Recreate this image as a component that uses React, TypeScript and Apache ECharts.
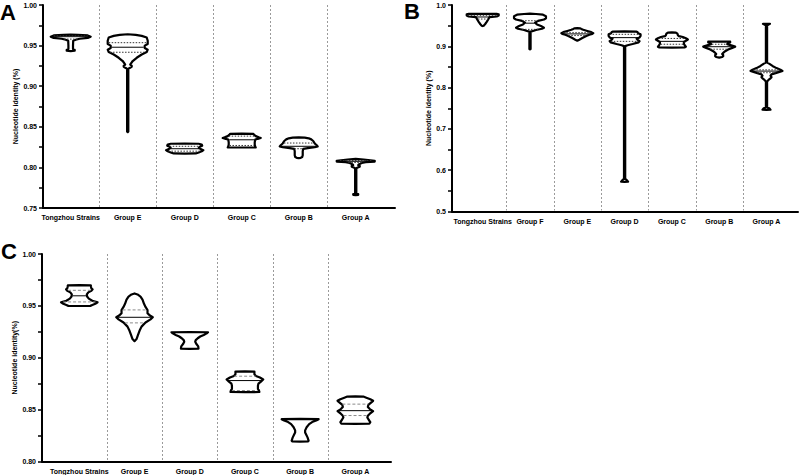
import React, { useEffect, useRef } from 'react';
import * as echarts from 'echarts';

// ---------- Panel A ----------
const catsA = ['Tongzhou Strains', 'Group E', 'Group D', 'Group C', 'Group B', 'Group A'];
// violin profiles: [value, relative density]
const A_tongzhou = [[0.9634, 0], [0.9632, 7], [0.9625, 17], [0.961, 20], [0.9595, 17], [0.9584, 9], [0.9572, 5], [0.956, 2.5], [0.95, 2.3], [0.9458, 2.3], [0.945, 4], [0.9438, 4], [0.9432, 0]];
const A_groupE = [[0.964, 0], [0.9633, 8], [0.962, 14], [0.96, 19], [0.956, 20], [0.952, 20], [0.95, 17], [0.947, 17], [0.945, 20], [0.942, 19], [0.939, 14], [0.935, 9], [0.931, 5], [0.9285, 3.5], [0.9265, 2.5], [0.9252, 4], [0.9238, 4], [0.9225, 2], [0.9212, 0.6], [0.8442, 0.6], [0.8434, 0]];
const A_groupD = [[0.8292, 0], [0.8291, 14], [0.8282, 17], [0.8268, 17.5], [0.8255, 15], [0.824, 14], [0.8225, 16], [0.8212, 18.7], [0.8198, 17], [0.8184, 14], [0.8172, 11], [0.817, 0]];
const A_groupC = [[0.8415, 0], [0.8414, 11.5], [0.84, 12.5], [0.8385, 14], [0.837, 17], [0.8362, 19], [0.8352, 16], [0.8342, 13.5], [0.831, 13], [0.828, 13], [0.8258, 13.5], [0.8246, 14], [0.8245, 0]];
const A_groupB = [[0.837, 0], [0.8366, 6], [0.8358, 10], [0.8345, 12.5], [0.8325, 14.5], [0.8295, 16], [0.8272, 18], [0.8258, 19], [0.8248, 16], [0.8238, 9], [0.8228, 4.5], [0.82, 4], [0.815, 4], [0.8128, 3.5], [0.8118, 2], [0.8115, 0]];
const A_groupA = [[0.8106, 0], [0.8097, 8], [0.8082, 19], [0.8072, 19], [0.8064, 10], [0.8054, 6], [0.804, 3.5], [0.8028, 2.5], [0.802, 4], [0.8008, 4], [0.7998, 2], [0.799, 0.6], [0.768, 0.6], [0.7672, 2.5], [0.7662, 2.5], [0.7658, 0]];
// [Q1, median, Q3]
const quartilesA = [[0.958, 0.961, 0.962], [0.9418, 0.948, 0.9536], [0.82, 0.823, 0.826], [0.827, 0.834, 0.8385], [0.823, 0.826, 0.83], [0.806, 0.8075, 0.8085]];
const ticksA = { min: 0.75, max: 1.0, interval: 0.05 };

// ---------- Panel B ----------
const catsB = ['Tongzhou Strains', 'Group F', 'Group E', 'Group D', 'Group C', 'Group B', 'Group A'];
const B_tongzhou = [[0.9786, 0], [0.9784, 14], [0.9776, 16], [0.9748, 16], [0.9722, 14], [0.9706, 7], [0.9695, 6.5], [0.965, 5.5], [0.959, 4], [0.954, 2.5], [0.95, 1], [0.949, 0]];
const B_groupF = [[0.979, 0], [0.9782, 6], [0.9765, 13], [0.973, 16], [0.968, 16], [0.965, 14], [0.9615, 8], [0.957, 5], [0.953, 7], [0.949, 11], [0.945, 14], [0.9425, 12], [0.9395, 6], [0.9372, 3], [0.9355, 0.6], [0.8935, 0.6], [0.8925, 0]];
const B_groupE = [[0.9442, 0], [0.9436, 3], [0.942, 4], [0.94, 6], [0.937, 10], [0.9342, 14], [0.9318, 16], [0.93, 15], [0.928, 12], [0.925, 9], [0.92, 5], [0.916, 2], [0.9135, 0]];
const B_groupD = [[0.936, 0], [0.9356, 12], [0.934, 13], [0.9318, 13.5], [0.929, 16], [0.925, 16], [0.9215, 15], [0.9185, 12], [0.9155, 13], [0.9125, 15], [0.9095, 14], [0.9055, 8], [0.9025, 3], [0.9005, 0.6], [0.579, 0.6], [0.5765, 2], [0.5722, 3.5], [0.5718, 0]];
const B_groupC = [[0.9335, 0], [0.9332, 4], [0.9305, 5.5], [0.927, 6], [0.9245, 7], [0.9225, 11], [0.9195, 14], [0.9165, 16], [0.9135, 14], [0.9105, 12], [0.906, 12], [0.902, 13], [0.899, 14], [0.8975, 13], [0.897, 0]];
const B_groupB = [[0.9115, 0], [0.9112, 11], [0.9092, 11], [0.9072, 9], [0.9052, 8], [0.9022, 12], [0.8992, 16], [0.8962, 13], [0.8922, 9], [0.8882, 6], [0.8842, 4], [0.8812, 3], [0.8792, 4], [0.8762, 4], [0.874, 3], [0.8725, 0]];
const B_groupA = [[0.9546, 0], [0.9545, 3.5], [0.9525, 2], [0.9505, 0.6], [0.8605, 0.6], [0.8575, 3], [0.8525, 6], [0.8472, 10], [0.8432, 14], [0.8405, 16], [0.838, 13], [0.835, 9], [0.832, 5], [0.829, 4], [0.8252, 5], [0.8222, 4], [0.8185, 2], [0.815, 0.6], [0.7522, 0.6], [0.7492, 3], [0.7466, 4], [0.746, 0]];
const quartilesB = [[0.966, 0.971, 0.975], [0.941, 0.956, 0.962], [0.926, 0.93, 0.933], [0.912, 0.921, 0.929], [0.905, 0.912, 0.919], [0.893, 0.899, 0.905], [0.836, 0.84, 0.843]];
const ticksB = { min: 0.5, max: 1.0, interval: 0.1 };

// ---------- Panel C ----------
const catsC = ['Tongzhou Strains', 'Group E', 'Group D', 'Group C', 'Group B', 'Group A'];
const C_tongzhou = [[0.97, 0], [0.9698, 11.5], [0.9685, 11.7], [0.967, 12], [0.966, 13.3], [0.9645, 12], [0.963, 9], [0.961, 7.5], [0.959, 7.8], [0.957, 9.5], [0.955, 13], [0.9535, 18.3], [0.952, 16], [0.9508, 13], [0.95, 11], [0.9499, 0]];
const C_groupE = [[0.962, 0], [0.961, 3], [0.959, 6], [0.956, 8], [0.952, 9.5], [0.949, 11], [0.946, 13], [0.943, 13], [0.941, 15], [0.939, 18.3], [0.937, 16], [0.934, 11], [0.93, 7], [0.926, 5], [0.922, 3.5], [0.918, 2], [0.916, 0]];
const C_groupD = [[0.9247, 0], [0.9246, 18.3], [0.9235, 17], [0.922, 14], [0.9205, 10.5], [0.9188, 8], [0.917, 6], [0.9155, 5.5], [0.9135, 6.5], [0.911, 8.5], [0.9087, 8.8], [0.9086, 0]];
const C_groupC = [[0.8868, 0], [0.8867, 9.5], [0.884, 9.5], [0.8825, 11], [0.881, 15], [0.879, 18.3], [0.877, 16], [0.875, 13.5], [0.873, 13], [0.87, 13], [0.8685, 14], [0.867, 14.5], [0.8668, 0]];
const C_groupB = [[0.841, 0], [0.8408, 18.5], [0.8395, 16], [0.838, 12], [0.836, 9], [0.833, 6.5], [0.83, 5], [0.828, 5], [0.826, 6], [0.823, 7.5], [0.82, 8.5], [0.8193, 8], [0.8192, 0]];
const C_groupA = [[0.8627, 0], [0.8626, 8], [0.8615, 11], [0.86, 15], [0.8585, 17.8], [0.857, 16], [0.8545, 13], [0.8525, 12.5], [0.8505, 14.5], [0.8485, 17.8], [0.8465, 15], [0.844, 12.5], [0.8425, 12], [0.84, 13.5], [0.838, 15], [0.8365, 14], [0.8362, 0]];
const quartilesC = [[0.9538, 0.9597, 0.965], [0.9336, 0.939, 0.9461], [], [0.8684, 0.878, 0.8822], [], [0.8443, 0.849, 0.8553]];
const ticksC = { min: 0.8, max: 1.0, interval: 0.05 };

const yNameAB = 'Nucleotide identity (%)';
const yNameC = 'Nucleotide identity(%)';

const FONT = '"Liberation Sans", Arial, sans-serif';

type Prof = number[][];

function widthAt(prof: Prof, v: number): number {
  for (let k = 0; k < prof.length - 1; k++) {
    const [v1, d1] = prof[k];
    const [v2, d2] = prof[k + 1];
    if (v <= v1 && v >= v2) {
      if (v1 === v2) return Math.max(d1, d2);
      const t = (v1 - v) / (v1 - v2);
      return d1 + (d2 - d1) * t;
    }
  }
  return 0;
}

interface PanelCfg {
  idx: number;
  cats: string[];
  profiles: Prof[];
  quarts: number[][];
  ticks: { min: number; max: number; interval: number };
  decimals: number;
  grid: { left: number; top: number; width: number; height: number };
  xMin: number;
  xMax: number;
  halfScale: number;
  yName: string;
  nameGap: number;
  dashColor: string;
  dash: number[];
}

function buildPanel(c: PanelCfg) {
  let maxD = 0;
  c.profiles.forEach((p) => p.forEach(([, d]) => { if (d > maxD) maxD = d; }));
  const renderItem = (params: any, api: any) => {
    const i = params.dataIndex;
    const prof = c.profiles[i];
    const k = c.halfScale / maxD;
    const right = prof.map(([v, d]) => api.coord([i + d * k, v]));
    const left = prof.slice().reverse().map(([v, d]) => api.coord([i - d * k, v]));
    const children: any[] = [];
    if (i < c.cats.length - 1) {
      const p1 = api.coord([i + 0.5, c.ticks.max]);
      const p2 = api.coord([i + 0.5, c.ticks.min]);
      children.push({
        type: 'line',
        shape: { x1: Math.round(p1[0]) + 0.5, y1: p1[1], x2: Math.round(p2[0]) + 0.5, y2: p2[1] - 1 },
        style: { stroke: '#9a9a9a', lineWidth: 1, lineDash: [2, 2] },
      });
    }
    children.push({
      type: 'polygon',
      shape: { points: right.concat(left) },
      style: { fill: '#fff', stroke: '#000', lineWidth: 2.2, lineJoin: 'round' },
    });
    const q = c.quarts[i] || [];
    q.forEach((v, j) => {
      const w = widthAt(prof, v) * k;
      const a = api.coord([i - w, v]);
      const b = api.coord([i + w, v]);
      const isMed = j === 1;
      children.push({
        type: 'line',
        shape: { x1: a[0] + 1, y1: a[1], x2: b[0] - 1, y2: b[1] },
        style: isMed
          ? { stroke: '#000', lineWidth: 1 }
          : { stroke: c.dashColor, lineWidth: 1, lineDash: c.dash },
      });
    });
    return { type: 'group', children };
  };

  const grid = { left: c.grid.left, top: c.grid.top, width: c.grid.width, height: c.grid.height, containLabel: false };
  const xAxis = {
    type: 'value',
    gridIndex: c.idx,
    min: c.xMin,
    max: c.xMax,
    axisLine: { show: true, onZero: false, lineStyle: { color: '#000', width: 2 } },
    axisTick: { show: false },
    splitLine: { show: false },
    axisLabel: {
      customValues: c.cats.map((_, i) => i),
      formatter: (v: number) => c.cats[Math.round(v)] ?? '',
      color: '#000',
      fontWeight: 'bold',
      fontSize: 7,
      fontFamily: FONT,
      margin: 6,
    },
  };
  const yAxis = {
    type: 'value',
    gridIndex: c.idx,
    min: c.ticks.min,
    max: c.ticks.max,
    interval: c.ticks.interval,
    axisLine: { show: true, onZero: false, lineStyle: { color: '#000', width: 2 } },
    axisTick: { show: true, length: 4, lineStyle: { color: '#000', width: 1.5 } },
    minorTick: { show: true, splitNumber: 2, length: 4, lineStyle: { color: '#000', width: 1.5 } },
    splitLine: { show: false },
    minorSplitLine: { show: false },
    axisLabel: {
      formatter: (v: number) => v.toFixed(c.decimals),
      color: '#000',
      fontWeight: 'bold',
      fontSize: 7,
      fontFamily: FONT,
      margin: 6,
    },
    name: c.yName,
    nameLocation: 'middle',
    nameRotate: 90,
    nameGap: c.nameGap,
    nameTextStyle: { color: '#000', fontWeight: 'bold', fontSize: 7, fontFamily: FONT },
  };
  const series = {
    type: 'custom',
    xAxisIndex: c.idx,
    yAxisIndex: c.idx,
    data: c.cats.map((_, i) => [i, (c.quarts[i] && c.quarts[i][1]) || c.profiles[i][0][0]]),
    renderItem,
    clip: false,
    silent: true,
  };
  return { grid, xAxis, yAxis, series };
}

export default function App() {
  const ref = useRef<HTMLDivElement>(null);
  useEffect(() => {
    if (!ref.current) return;
    const chart = echarts.init(ref.current, undefined, { renderer: 'svg' });
    const pA = buildPanel({
      idx: 0, cats: catsA,
      profiles: [A_tongzhou, A_groupE, A_groupD, A_groupC, A_groupB, A_groupA],
      quarts: quartilesA, ticks: ticksA, decimals: 2,
      grid: { left: 43, top: 5, width: 352, height: 203 },
      xMin: -0.486, xMax: 5.689, halfScale: 0.351,
      yName: yNameAB, nameGap: 24, dashColor: '#333', dash: [1.5, 1.5],
    });
    const pB = buildPanel({
      idx: 1, cats: catsB,
      profiles: [B_tongzhou, B_groupF, B_groupE, B_groupD, B_groupC, B_groupB, B_groupA],
      quarts: quartilesB, ticks: ticksB, decimals: 1,
      grid: { left: 452, top: 5, width: 346, height: 206.5 },
      xMin: -0.649, xMax: 6.666, halfScale: 0.338,
      yName: yNameAB, nameGap: 15, dashColor: '#333', dash: [1.5, 1.5],
    });
    const pC = buildPanel({
      idx: 2, cats: catsC,
      profiles: [C_tongzhou, C_groupE, C_groupD, C_groupC, C_groupB, C_groupA],
      quarts: quartilesC, ticks: ticksC, decimals: 2,
      grid: { left: 42, top: 254, width: 349, height: 207.5 },
      xMin: -0.676, xMax: 5.646, halfScale: 0.335,
      yName: yNameC, nameGap: 17, dashColor: '#8a8a8a', dash: [3, 2],
    });
    const letter = (t: string, x: number, y: number) => ({
      type: 'text', left: x, top: y,
      style: { text: t, font: `bold 22px ${FONT}`, fill: '#000' },
    });
    chart.setOption({
      animation: false,
      textStyle: { fontFamily: FONT },
      grid: [pA.grid, pB.grid, pC.grid],
      xAxis: [pA.xAxis, pB.xAxis, pC.xAxis],
      yAxis: [pA.yAxis, pB.yAxis, pC.yAxis],
      series: [pA.series, pB.series, pC.series],
      graphic: [letter('A', 0, 1), letter('B', 404, 0), letter('C', 1, 240)],
    });
    return () => chart.dispose();
  }, []);
  return (
    <div
      ref={ref}
      style={{ position: 'fixed', left: 0, top: 0, width: 799, height: 475, background: '#fff' }}
    />
  );
}
